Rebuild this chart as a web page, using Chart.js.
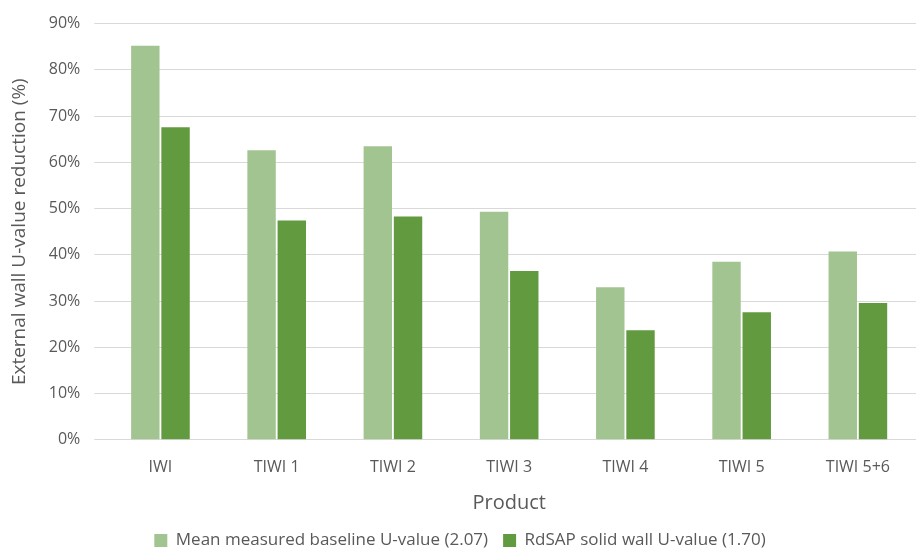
<!DOCTYPE html>
<html><head><meta charset="utf-8">
<script src="https://cdn.jsdelivr.net/npm/chart.js@4"></script>
<style>html,body{margin:0;background:#fff}#c{width:916px;height:559px}</style>
</head><body><div id="c"><canvas id="chart"></canvas></div>
<script>
const categories = ["IWI", "TIWI 1", "TIWI 2", "TIWI 3", "TIWI 4", "TIWI 5", "TIWI 5+6"];
const measured = [85.2, 62.6, 63.5, 49.3, 33.0, 38.5, 40.7];
const rdsap = [67.6, 47.4, 48.3, 36.5, 23.7, 27.6, 29.6];

Chart.defaults.font.family = "'Open Sans', 'Noto Sans', sans-serif";
Chart.defaults.color = "#595959";

new Chart(document.getElementById("chart"), {
  type: "bar",
  data: {
    labels: categories,
    datasets: [
      { label: "Mean measured baseline U-value (2.07)", data: measured, backgroundColor: "#A2C490" },
      { label: "RdSAP solid wall U-value (1.70)", data: rdsap, backgroundColor: "#629A3F" }
    ]
  },
  options: {
    responsive: true, maintainAspectRatio: false, animation: false,
    layout: { padding: { left: 4, right: 0, top: 6, bottom: 0 } },
    datasets: { bar: { categoryPercentage: 0.52, barPercentage: 0.94 } },
    plugins: {
      tooltip: { enabled: false },
      legend: {
        position: "bottom",
        labels: { font: { size: 17 }, boxWidth: 13, boxHeight: 13, padding: 15 }
      }
    },
    scales: {
      x: {
        grid: { display: false },
        border: { color: "#D9D9D9" },
        ticks: { font: { size: 16 }, padding: 10 },
        title: { display: true, text: "Product", font: { size: 20 }, padding: { top: 4, bottom: 2 } }
      },
      y: {
        min: 0, max: 90,
        grid: { color: "#D9D9D9" },
        border: { display: false },
        ticks: { stepSize: 10, font: { size: 16 }, callback: v => v + "%", padding: 14 },
        title: { display: true, text: "External wall U-value reduction (%)", font: { size: 19 } }
      }
    }
  }
});
</script></body></html>
